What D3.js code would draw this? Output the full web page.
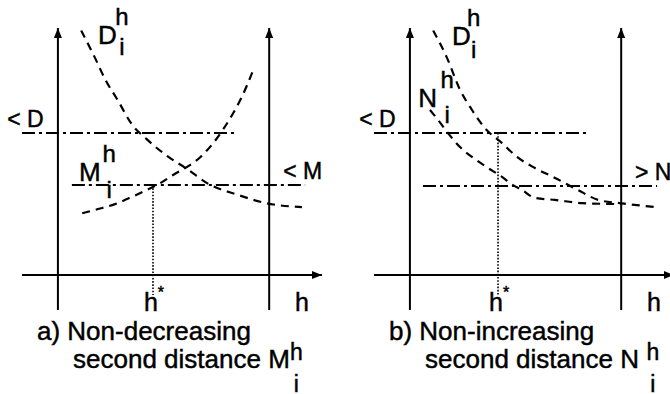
<!DOCTYPE html>
<html>
<head>
<meta charset="utf-8">
<script src="https://cdn.jsdelivr.net/npm/d3@7"></script>
<style>
  body { margin: 0; background: #fff; }
  text { font-family: "Liberation Sans", Arial, Helvetica, sans-serif; fill: #000; stroke: #000; stroke-width: 0.45px; }
</style>
</head>
<body>
<div id="root"></div>
<script>
// ---- panel a: non-decreasing second distance ----
const hDa = [1.1, 1.75, 2.25, 2.85, 3.5, 4.2, 5.2, 6.1, 7.1, 8.5, 9.9, 11.55];
const vDa = [9.9, 8.8, 7.9, 7.05, 6.1, 5.5, 4.8, 4.3, 3.7, 3.25, 2.9, 2.75];
const hMa = [1.15, 1.9, 2.7, 3.5, 4.2, 4.85, 5.45, 6.1, 6.75, 7.35, 7.8, 8.3, 8.7, 9.2];
const vMa = [2.5, 2.67, 2.87, 3.16, 3.44, 3.72, 4.05, 4.37, 4.78, 5.34, 5.87, 6.56, 7.2, 8.2];

// ---- panel b: non-increasing second distance ----
const hDb = [1.1, 1.75, 2.37, 2.94, 3.55, 4.36, 5.07, 5.92, 6.87, 7.96, 8.91, 10.05, 11.6];
const vDb = [9.9, 8.8, 7.5, 6.68, 5.95, 5.34, 4.78, 4.33, 3.93, 3.44, 3.04, 2.9, 2.75];
const hNb = [0.95, 1.33, 1.8, 2.37, 2.94, 3.7, 4.36, 4.88, 5.31, 5.92, 6.87, 8.15, 10.05];
const vNb = [6.68, 6.28, 5.75, 5.18, 4.78, 4.33, 3.97, 3.64, 3.44, 3.12, 3.04, 2.91, 2.87];

// thresholds and optimum h*
const levelD = 5.75;
const levelM = 3.64;
const levelN = 3.6;
const hStarA = 4.5;
const hStarB = 4.17;

const captionsA = ['a) Non-decreasing', 'second distance M'];
const captionsB = ['b) Non-increasing', 'second distance N'];

const width = 670;
const height = 394;
const panelWidth = 300;
const dashCurve = '8,6';
const dashLevel = '13,4,3,4';

const svg = d3.select('#root')
  .append('svg')
  .attr('width', width)
  .attr('height', height);

svg.append('defs')
  .append('marker')
  .attr('id', 'arrow')
  .attr('markerUnits', 'userSpaceOnUse')
  .attr('viewBox', '0 0 10 8')
  .attr('refX', 10)
  .attr('refY', 4)
  .attr('markerWidth', 10)
  .attr('markerHeight', 8)
  .attr('orient', 'auto')
  .append('path')
  .attr('d', 'M0,0L10,4L0,8Z')
  .attr('fill', '#000');

const y = d3.scaleLinear().domain([0, 10]).range([275, 28]);

function label(g, x, yPos, base, size, sub, sup, gap, supDy, subDy, subSize) {
  const t = g.append('text')
    .attr('x', x)
    .attr('y', yPos)
    .attr('font-size', size)
    .text(base);
  const cx = x + t.node().getComputedTextLength() + gap;
  g.append('text')
    .attr('x', cx)
    .attr('y', yPos + supDy)
    .attr('text-anchor', 'middle')
    .attr('font-size', subSize)
    .text(sup);
  g.append('text')
    .attr('x', cx)
    .attr('y', yPos + subDy)
    .attr('text-anchor', 'middle')
    .attr('font-size', subSize)
    .text(sub);
}

function drawPanel(left, cfg) {
  const x = d3.scaleLinear().domain([-1.7, 12.5]).range([left, left + panelWidth]);
  const g = svg.append('g');
  const line = d3.line()
    .x((d) => x(d[0]))
    .y((d) => y(d[1]))
    .curve(d3.curveMonotoneX);
  const straight = d3.line().x((d) => x(d[0])).y((d) => y(d[1]));

  // axes
  g.append('path')
    .attr('d', straight([[-1.7, 0], [12.5, 0]]))
    .attr('stroke', '#000').attr('stroke-width', 2).attr('fill', 'none')
    .attr('marker-end', 'url(#arrow)');
  [0, 10].forEach((h) => {
    g.append('path')
      .attr('d', straight([[h, -1.42], [h, 10]]))
      .attr('stroke', '#000').attr('stroke-width', 2).attr('fill', 'none')
      .attr('marker-end', 'url(#arrow)');
  });

  // threshold lines
  cfg.levels.forEach((lv) => {
    g.append('path')
      .attr('d', straight([[lv.from, lv.v], [lv.to, lv.v]]))
      .attr('stroke', '#000').attr('stroke-width', 2).attr('fill', 'none')
      .attr('stroke-dasharray', dashLevel);
    g.append('text')
      .attr('x', x(lv.labelH))
      .attr('y', y(lv.v) - 6)
      .attr('font-size', 23)
      .text(lv.text);
  });

  // h* dotted
  g.append('path')
    .attr('d', straight([[cfg.hStar, cfg.hStarTop], [cfg.hStar, -0.81]]))
    .attr('stroke', '#000').attr('stroke-width', 1.6).attr('fill', 'none')
    .attr('stroke-dasharray', '1.6,1.6');

  // curves
  cfg.curves.forEach((c) => {
    g.append('path')
      .attr('d', line(d3.zip(c.h, c.v)))
      .attr('stroke', '#000').attr('stroke-width', 2.2).attr('fill', 'none')
      .attr('stroke-dasharray', dashCurve);
    label(g, x(c.labelH), y(c.labelV), c.name, 26, 'i', 'h', c.gap, -19, c.subDy, 24);
  });

  // tick labels
  g.append('text')
    .attr('x', x(cfg.hStar) - 2)
    .attr('y', y(-1.46))
    .attr('text-anchor', 'middle')
    .attr('font-size', 25)
    .text('h');
  g.append('text')
    .attr('x', x(cfg.hStar) + 8)
    .attr('y', y(-0.95))
    .attr('text-anchor', 'middle')
    .attr('font-size', 16)
    .text('*');
  g.append('text')
    .attr('x', x(11.22))
    .attr('y', y(-1.46))
    .attr('font-size', 25)
    .text('h');

  // caption
  g.append('text')
    .attr('x', left + 15)
    .attr('y', 340)
    .attr('font-size', 26)
    .text(cfg.captions[0]);
  label(g, left + 51, 368, cfg.captions[1], 26, 'i', 'h', cfg.captionGap, -8, 24, 23);
}

drawPanel(22, {
  levels: [
    { v: levelD, from: -1.7, to: 8.39, labelH: -2.4, text: '< D' },
    { v: levelM, from: 0.66, to: 11.7, labelH: 10.66, text: '< M' }
  ],
  hStar: hStarA,
  hStarTop: levelM,
  curves: [
    { h: hDa, v: vDa, name: 'D', labelH: 1.9, labelV: 9.35, gap: 5, subDy: 11 },
    { h: hMa, v: vMa, name: 'M', labelH: 1.0, labelV: 3.81, gap: 8.5, subDy: 17 }
  ],
  captions: captionsA,
  captionGap: 6.5
});

drawPanel(374, {
  levels: [
    { v: levelD, from: -1.7, to: 8.39, labelH: -2.4, text: '< D' },
    { v: levelN, from: 0.62, to: 11.7, labelH: 10.65, text: '> N' }
  ],
  hStar: hStarB,
  hStarTop: levelD,
  curves: [
    { h: hDb, v: vDb, name: 'D', labelH: 1.99, labelV: 9.31, gap: 3, subDy: 13 },
    { h: hNb, v: vNb, name: 'N', labelH: 0.4, labelV: 6.8, gap: 10, subDy: 16 }
  ],
  captions: captionsB,
  captionGap: 14
});
</script>
</body>
</html>
